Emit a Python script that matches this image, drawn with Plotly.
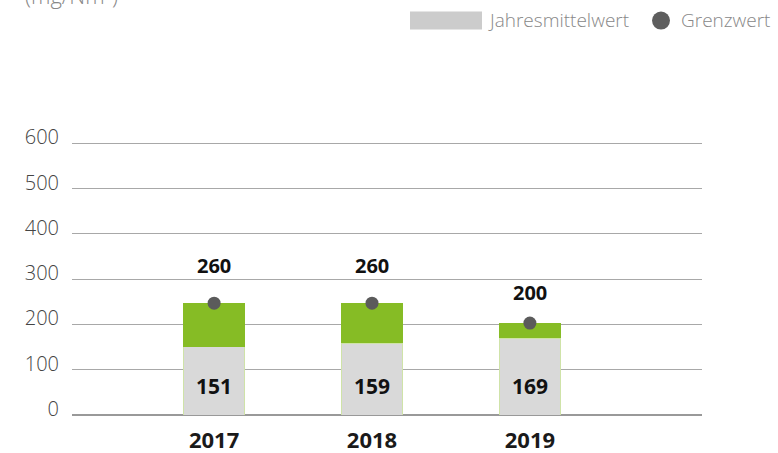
import plotly.graph_objects as go

years = ["2017", "2018", "2019"]
jahresmittelwert = [151, 159, 169]
# height of the drawn green segment top / Grenzwert marker as seen in the picture
grenzwert_drawn = [247, 247, 203]
grenzwert_labels = [260, 260, 200]
y_ticks = [0, 100, 200, 300, 400, 500, 600]

green_part = [g - m for g, m in zip(grenzwert_drawn, jahresmittelwert)]

GREY = "#d9d9d9"
GREEN = "#86bc25"
DOT = "#5b5b5b"
TXT = "#444444"
BOLD_FONT = "Open Sans"

fig = go.Figure()
fig.add_trace(go.Bar(
    x=years, y=jahresmittelwert, name="Jahresmittelwert",
    marker=dict(color=GREY, line=dict(color="#cfe3a8", width=1)),
    width=0.39, showlegend=False, hoverinfo="skip"))
fig.add_trace(go.Bar(
    x=years, y=green_part, base=jahresmittelwert, name="Grenzwert-Bereich",
    marker=dict(color=GREEN, line=dict(width=0)),
    width=0.39, showlegend=False, hoverinfo="skip"))
fig.add_trace(go.Scatter(
    x=years, y=grenzwert_drawn, mode="markers", name="Grenzwert",
    marker=dict(color=DOT, size=13), showlegend=False, hoverinfo="skip"))

ann = []
for i, (m, gl) in enumerate(zip(jahresmittelwert, grenzwert_labels)):
    ann.append(dict(x=i, y=0, text=str(m), showarrow=False, yshift=29,
                    font=dict(family=BOLD_FONT, size=21, color="#111", weight="bold")))
    ann.append(dict(x=i, y=gl, text=str(gl), showarrow=False, yshift=32,
                    font=dict(family=BOLD_FONT, size=20, color="#111", weight="bold")))

# plot area in figure pixels: x 72..702, y 143..415
W = 630.0; H = 272.0
def px(xp): return (xp - 72) / W
def py(yp): return (415 - yp) / H

# title (clipped at top, as in the reference)
ann.append(dict(xref="paper", yref="paper", x=px(23), y=py(-3), xanchor="left", yanchor="middle",
                text="(mg/Nm³)", showarrow=False,
                font=dict(family="Open Sans", size=22, color="#888", weight=300)))

# manual legend
shapes = [
    dict(type="rect", xref="paper", yref="paper", x0=px(410), x1=px(482), y0=py(31), y1=py(13),
         fillcolor="#cccccc", line=dict(width=0)),
    dict(type="circle", xref="paper", yref="paper", x0=px(652), x1=px(670), y0=py(31), y1=py(13),
         fillcolor="#5e5e5e", line=dict(width=0)),
]
ann.append(dict(xref="paper", yref="paper", x=px(486), y=py(21), xanchor="left", yanchor="middle",
                text="Jahresmittelwert", showarrow=False,
                font=dict(family="Open Sans", size=19, color="#888", weight=300)))
ann.append(dict(xref="paper", yref="paper", x=px(679), y=py(21), xanchor="left", yanchor="middle",
                text="Grenzwert", showarrow=False,
                font=dict(family="Open Sans", size=19, color="#888", weight=300)))

fig.update_layout(
    width=778, height=453,
    margin=dict(l=72, r=76, t=142, b=38, autoexpand=False),
    paper_bgcolor="white", plot_bgcolor="white",
    barmode="stack",
    annotations=ann, shapes=shapes,
    xaxis=dict(type="category", range=[-0.9, 3.09], showgrid=False, showline=False,
               zeroline=False, ticks="", fixedrange=True, ticklabelstandoff=10, automargin=False,
               tickfont=dict(family=BOLD_FONT, size=22, color="#1a1a1a", weight="bold")),
    yaxis=dict(range=[0, 603], tickvals=y_ticks, showgrid=True, gridcolor="#a8a8a8", gridwidth=1,
               zeroline=True, zerolinecolor="#999", zerolinewidth=2, showline=False,
               ticks="", ticklabelstandoff=12, ticklabelshift=-6, automargin=False, fixedrange=True,
               tickfont=dict(family="Open Sans", size=20, color=TXT, weight=300)),
)

fig.write_html("out.html", config={"displayModeBar": False},
               post_script="document.body.style.margin='0px';")
